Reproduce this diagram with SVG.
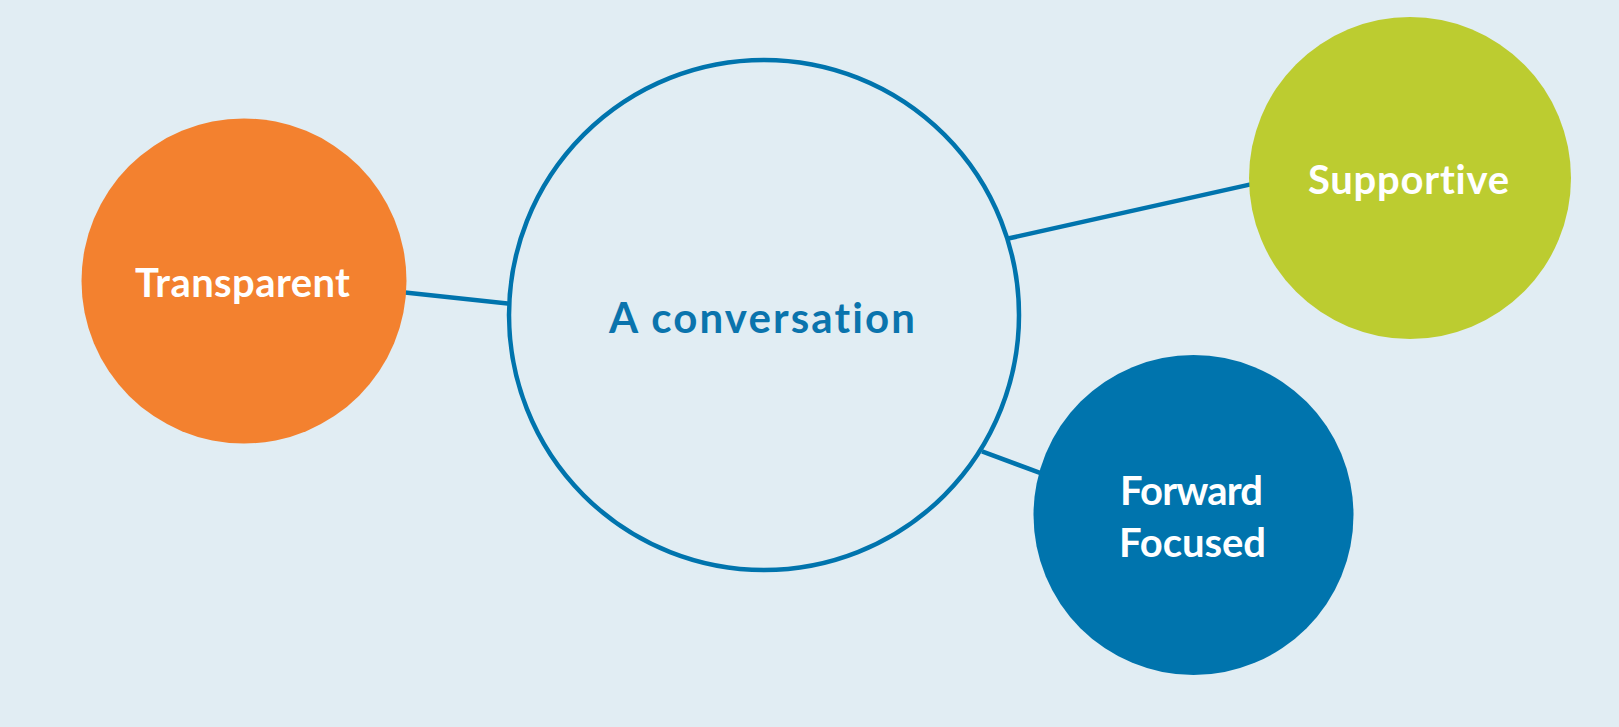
<svg xmlns="http://www.w3.org/2000/svg" width="1619" height="727" viewBox="0 0 1619 727">
  <style>
    .conn { stroke: #0074ad; stroke-width: 4.5; fill: none; }
    .lbl { font-family: Lato, "Open Sans", "Liberation Sans", sans-serif; font-weight: 700; text-anchor: middle; font-variant-ligatures: none; font-feature-settings: "liga" 0; }
    .white { fill: #ffffff; }
  </style>
  <rect x="0" y="0" width="1619" height="727" fill="#e1edf3"/>
  <g id="connectors">
    <line class="conn" x1="405" y1="292.6" x2="510" y2="303.8"/>
    <line class="conn" x1="1007" y1="238.8" x2="1254" y2="183.6"/>
    <line class="conn" x1="982" y1="451.3" x2="1042" y2="473.7"/>
  </g>
  <g id="node-center">
    <circle cx="764" cy="315" r="255" fill="#e1edf3" stroke="#0074ad" stroke-width="4.5"/>
    <text class="lbl" x="762" y="333" font-size="42" fill="#0a74ad" textLength="306">A conversation</text>
  </g>
  <g id="node-transparent">
    <circle cx="244" cy="281" r="162.5" fill="#f3812f"/>
    <text class="lbl white" x="242.5" y="297" font-size="40" textLength="215">Transparent</text>
  </g>
  <g id="node-supportive">
    <circle cx="1410" cy="178" r="161" fill="#bccc30"/>
    <text class="lbl white" x="1408.5" y="194" font-size="40" textLength="201">Supportive</text>
  </g>
  <g id="node-forward">
    <circle cx="1193.5" cy="515" r="160" fill="#0074ad"/>
    <text class="lbl white" x="1191.5" y="505" font-size="40" textLength="143">Forward</text>
    <text class="lbl white" x="1192.5" y="557" font-size="40" textLength="147">Focused</text>
  </g>
</svg>
